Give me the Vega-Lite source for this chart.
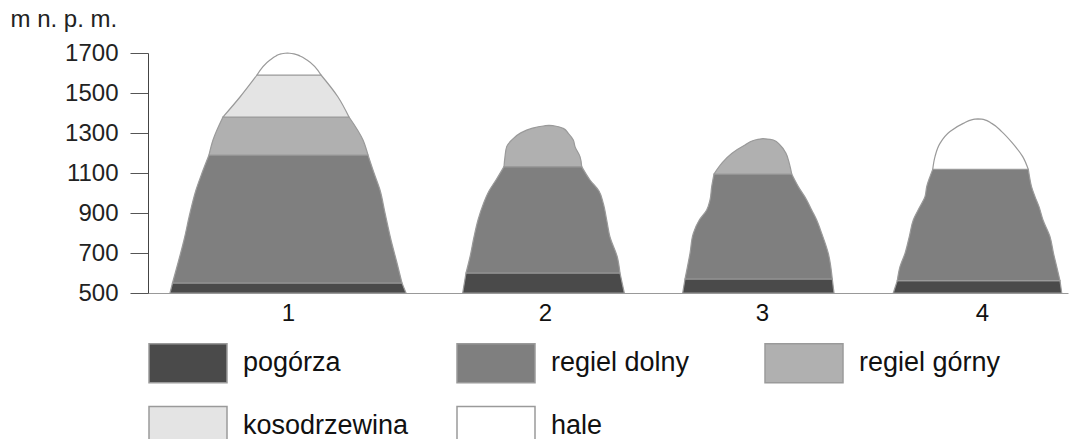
{
  "$schema": "https://vega.github.io/schema/vega-lite/v6.json",
  "width": 920,
  "height": 240,
  "autosize": {"type": "none"},
  "padding": {"left": 148, "top": 53, "right": 3, "bottom": 146},
  "background": "white",
  "config": {
    "font": "Liberation Sans",
    "view": {"stroke": null}
  },
  "data": {
    "values": [
      {"m": 1, "zone": "pogórza", "alt": 500, "left": 22, "right": 258},
      {"m": 1, "zone": "pogórza", "alt": 550, "left": 24.5, "right": 254},
      {"m": 1, "zone": "regiel dolny", "alt": 550, "left": 24.5, "right": 254},
      {"m": 1, "zone": "regiel dolny", "alt": 650, "left": 30, "right": 249},
      {"m": 1, "zone": "regiel dolny", "alt": 765, "left": 36, "right": 243},
      {"m": 1, "zone": "regiel dolny", "alt": 900, "left": 42, "right": 237},
      {"m": 1, "zone": "regiel dolny", "alt": 1015, "left": 48, "right": 232},
      {"m": 1, "zone": "regiel dolny", "alt": 1100, "left": 54, "right": 226},
      {"m": 1, "zone": "regiel dolny", "alt": 1190, "left": 61, "right": 220},
      {"m": 1, "zone": "regiel górny", "alt": 1190, "left": 61, "right": 220},
      {"m": 1, "zone": "regiel górny", "alt": 1265, "left": 65, "right": 215},
      {"m": 1, "zone": "regiel górny", "alt": 1380, "left": 75, "right": 201},
      {"m": 1, "zone": "kosodrzewina", "alt": 1380, "left": 75, "right": 201},
      {"m": 1, "zone": "kosodrzewina", "alt": 1480, "left": 92, "right": 190},
      {"m": 1, "zone": "kosodrzewina", "alt": 1590, "left": 109, "right": 173},
      {"m": 1, "zone": "hale", "alt": 1590, "left": 109, "right": 173},
      {"m": 1, "zone": "hale", "alt": 1665, "left": 122, "right": 159},
      {"m": 1, "zone": "hale", "alt": 1685, "left": 128, "right": 152},
      {"m": 1, "zone": "hale", "alt": 1696, "left": 133, "right": 146},
      {"m": 1, "zone": "hale", "alt": 1700, "left": 139.5, "right": 139.5},

      {"m": 2, "zone": "pogórza", "alt": 500, "left": 314.7, "right": 476.3},
      {"m": 2, "zone": "pogórza", "alt": 600, "left": 318, "right": 472},
      {"m": 2, "zone": "regiel dolny", "alt": 600, "left": 318, "right": 472},
      {"m": 2, "zone": "regiel dolny", "alt": 680, "left": 322, "right": 469.3},
      {"m": 2, "zone": "regiel dolny", "alt": 780, "left": 326, "right": 462},
      {"m": 2, "zone": "regiel dolny", "alt": 865, "left": 330, "right": 458.7},
      {"m": 2, "zone": "regiel dolny", "alt": 948, "left": 335.5, "right": 455.3},
      {"m": 2, "zone": "regiel dolny", "alt": 1010, "left": 341, "right": 451},
      {"m": 2, "zone": "regiel dolny", "alt": 1065, "left": 348, "right": 442},
      {"m": 2, "zone": "regiel dolny", "alt": 1132, "left": 356, "right": 433.7},
      {"m": 2, "zone": "regiel górny", "alt": 1132, "left": 356, "right": 433.7},
      {"m": 2, "zone": "regiel górny", "alt": 1182, "left": 357, "right": 432},
      {"m": 2, "zone": "regiel górny", "alt": 1232, "left": 358.7, "right": 427},
      {"m": 2, "zone": "regiel górny", "alt": 1265, "left": 363.7, "right": 425.3},
      {"m": 2, "zone": "regiel górny", "alt": 1298, "left": 372, "right": 420.3},
      {"m": 2, "zone": "regiel górny", "alt": 1323, "left": 383.7, "right": 415.3},
      {"m": 2, "zone": "regiel górny", "alt": 1335, "left": 395.3, "right": 407},
      {"m": 2, "zone": "regiel górny", "alt": 1338, "left": 401, "right": 401},

      {"m": 3, "zone": "pogórza", "alt": 500, "left": 534.7, "right": 686},
      {"m": 3, "zone": "pogórza", "alt": 570, "left": 537, "right": 684.3},
      {"m": 3, "zone": "regiel dolny", "alt": 570, "left": 537, "right": 684.3},
      {"m": 3, "zone": "regiel dolny", "alt": 698, "left": 542, "right": 680.3},
      {"m": 3, "zone": "regiel dolny", "alt": 798, "left": 545.3, "right": 673.7},
      {"m": 3, "zone": "regiel dolny", "alt": 865, "left": 551.3, "right": 668.7},
      {"m": 3, "zone": "regiel dolny", "alt": 915, "left": 558.7, "right": 663.7},
      {"m": 3, "zone": "regiel dolny", "alt": 965, "left": 562, "right": 658.7},
      {"m": 3, "zone": "regiel dolny", "alt": 1032, "left": 563.7, "right": 650.3},
      {"m": 3, "zone": "regiel dolny", "alt": 1095, "left": 566, "right": 643.7},
      {"m": 3, "zone": "regiel górny", "alt": 1095, "left": 566, "right": 643.7},
      {"m": 3, "zone": "regiel górny", "alt": 1148, "left": 573.7, "right": 641.3},
      {"m": 3, "zone": "regiel górny", "alt": 1198, "left": 583.7, "right": 638},
      {"m": 3, "zone": "regiel górny", "alt": 1240, "left": 597, "right": 632},
      {"m": 3, "zone": "regiel górny", "alt": 1265, "left": 607, "right": 625.3},
      {"m": 3, "zone": "regiel górny", "alt": 1272, "left": 615, "right": 615},

      {"m": 4, "zone": "pogórza", "alt": 500, "left": 745.3, "right": 913.7},
      {"m": 4, "zone": "pogórza", "alt": 562, "left": 749.3, "right": 912},
      {"m": 4, "zone": "regiel dolny", "alt": 562, "left": 749.3, "right": 912},
      {"m": 4, "zone": "regiel dolny", "alt": 632, "left": 752, "right": 908.7},
      {"m": 4, "zone": "regiel dolny", "alt": 698, "left": 757, "right": 905.5},
      {"m": 4, "zone": "regiel dolny", "alt": 782, "left": 761.3, "right": 902},
      {"m": 4, "zone": "regiel dolny", "alt": 865, "left": 765.3, "right": 895},
      {"m": 4, "zone": "regiel dolny", "alt": 932, "left": 772, "right": 891},
      {"m": 4, "zone": "regiel dolny", "alt": 982, "left": 777, "right": 887},
      {"m": 4, "zone": "regiel dolny", "alt": 1032, "left": 778.7, "right": 883.5},
      {"m": 4, "zone": "regiel dolny", "alt": 1082, "left": 782, "right": 881.5},
      {"m": 4, "zone": "regiel dolny", "alt": 1118, "left": 784.7, "right": 880.3},
      {"m": 4, "zone": "hale", "alt": 1118, "left": 784.7, "right": 880.3},
      {"m": 4, "zone": "hale", "alt": 1182, "left": 787, "right": 874.7},
      {"m": 4, "zone": "hale", "alt": 1248, "left": 792, "right": 864.7},
      {"m": 4, "zone": "hale", "alt": 1307, "left": 802, "right": 853.7},
      {"m": 4, "zone": "hale", "alt": 1348, "left": 815.3, "right": 843.7},
      {"m": 4, "zone": "hale", "alt": 1368, "left": 825.3, "right": 835.3},
      {"m": 4, "zone": "hale", "alt": 1371, "left": 830, "right": 830}
    ]
  },
  "mark": {
    "type": "area",
    "orient": "horizontal",
    "interpolate": "monotone",
    "stroke": "#9a9a9a",
    "strokeWidth": 1.2,
    "fillOpacity": 1
  },
  "encoding": {
    "y": {
      "field": "alt",
      "type": "quantitative",
      "scale": {"domain": [500, 1700], "nice": false, "zero": false},
      "axis": {
        "values": [500, 700, 900, 1100, 1300, 1500, 1700],
        "format": "d",
        "grid": false,
        "tickSize": 18,
        "tickColor": "#555",
        "domainColor": "#444",
        "labelFontSize": 24,
        "labelColor": "#222",
        "labelPadding": 12,
        "title": "m n. p. m.",
        "titleAngle": 0,
        "titleX": -138,
        "titleY": -34,
        "titleAlign": "left",
        "titleBaseline": "middle",
        "titleFontSize": 24,
        "titleFontWeight": "normal",
        "titleColor": "#222"
      }
    },
    "x": {
      "field": "left",
      "type": "quantitative",
      "stack": null,
      "scale": {"domain": [0, 920], "nice": false, "zero": false},
      "axis": {
        "values": [140, 397, 614, 834],
        "labelExpr": "datum.value < 300 ? '1' : datum.value < 500 ? '2' : datum.value < 700 ? '3' : '4'",
        "ticks": false,
        "grid": false,
        "domainColor": "#999",
        "labelFontSize": 24,
        "labelColor": "#111",
        "labelPadding": 8,
        "title": null
      }
    },
    "x2": {"field": "right"},
    "detail": {"field": "m", "type": "nominal"},
    "fill": {
      "field": "zone",
      "type": "nominal",
      "scale": {
        "domain": ["pogórza", "regiel dolny", "regiel górny", "kosodrzewina", "hale"],
        "range": ["#4a4a4a", "#7f7f7f", "#b0b0b0", "#e4e4e4", "#ffffff"]
      },
      "legend": {
        "title": null,
        "orient": "none",
        "legendX": 0,
        "legendY": 270,
        "direction": "horizontal",
        "columns": 3,
        "gridAlign": "all",
        "padding": 0,
        "symbolType": "M-1,-0.5H1V0.5H-1Z",
        "symbolSize": 6084,
        "labelFontSize": 27,
        "labelColor": "#111",
        "labelOffset": 15,
        "labelLimit": 400,
        "labelBaseline": "middle",
        "columnPadding": 45,
        "rowPadding": 0,
        "encode": {
          "symbols": {
            "update": {
              "stroke": {"value": "#333"},
              "strokeWidth": {"value": 1.2},
              "opacity": {"value": 1},
              "fillOpacity": {"value": 1}
            }
          }
        }
      }
    }
  }
}
